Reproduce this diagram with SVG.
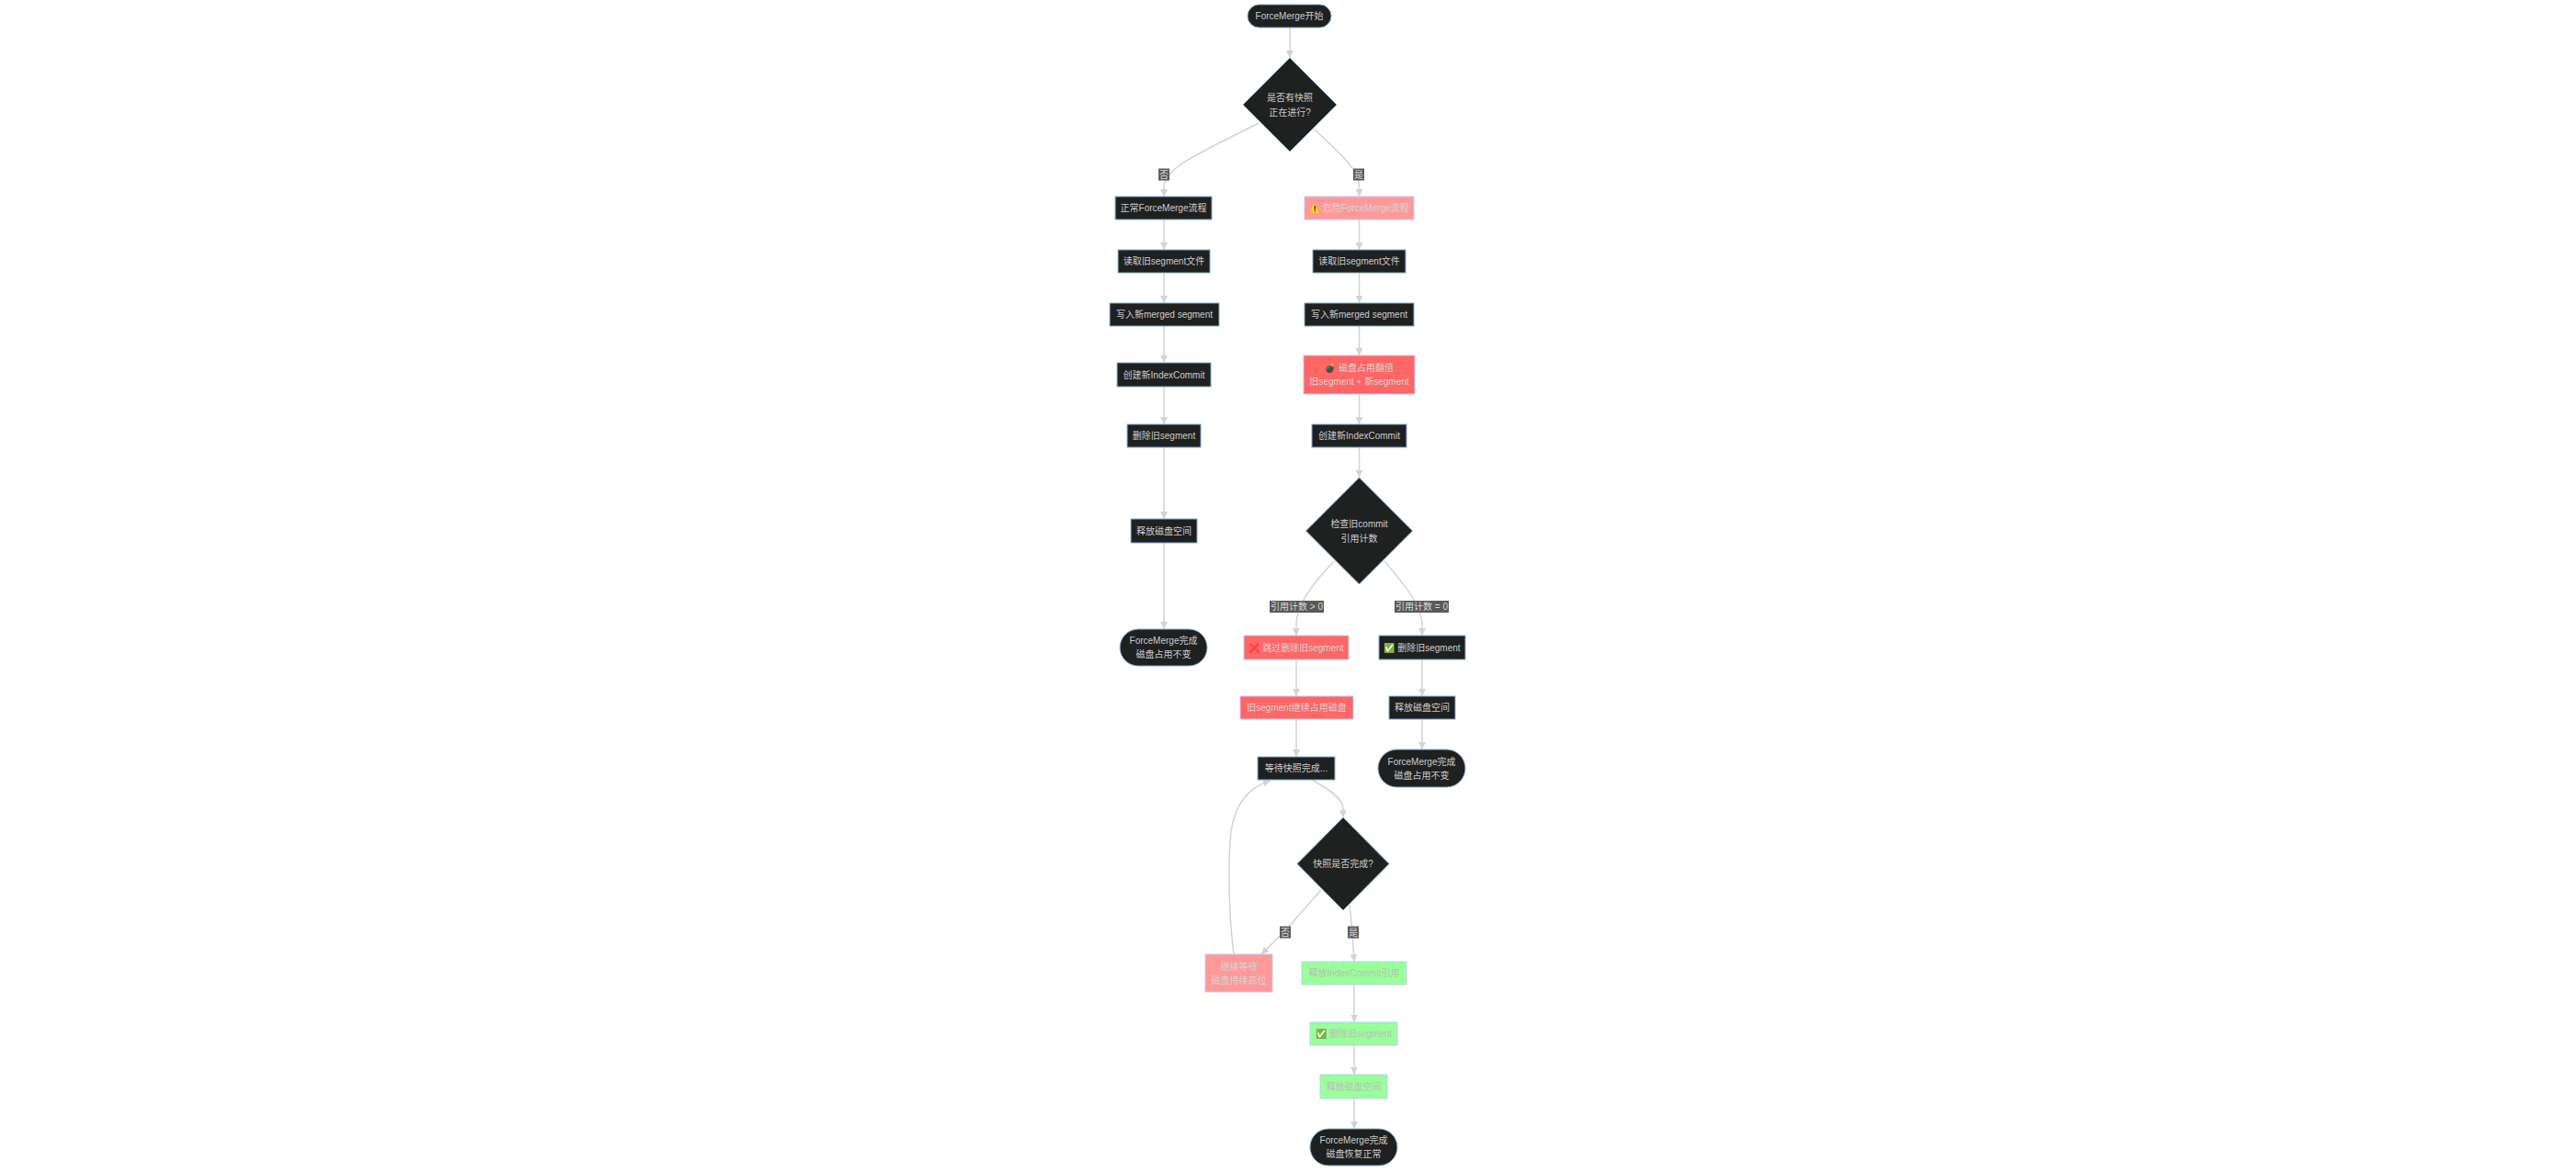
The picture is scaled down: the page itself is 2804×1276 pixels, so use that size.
<svg xmlns="http://www.w3.org/2000/svg" width="2804" height="1276" viewBox="0 0 2804 1276">
<defs>
<style>
.n rect,.n polygon{fill:#1f2020;stroke:#86acd4;stroke-width:1}
.n.pink rect{fill:#ff9999;stroke:#c8c8ee}
.n.red rect{fill:#ff6666;stroke:#c8c8ee}
.n.green rect{fill:#99ff99;stroke:#b8d4ee}
text{font-family:"Liberation Sans","Noto Sans CJK SC",sans-serif;font-size:10px;fill:#cccccc;text-anchor:middle}
.pink text,.red text{fill:#d4d4d4}
.green text{fill:#bcbcbc}
.e path{fill:none;stroke:#d3d3d3;stroke-width:1.5;marker-end:url(#arr)}
.lb rect{fill:#5a5a5a}
.lb text{fill:#d8d8d8}
</style>
<marker id="arr" viewBox="0 0 10 10" refX="10" refY="5" markerWidth="8" markerHeight="8" markerUnits="userSpaceOnUse" orient="auto">
<path d="M0,0 L10,5 L0,10 z" fill="#d3d3d3"/>
</marker>
</defs>
<rect width="2804" height="1276" fill="#ffffff"/>
<g id="edges" class="e">
<path d="M1404,30 L1404,63"/>
<path d="M1370,134 C1310,165 1267,182 1267,203 L1267,214"/>
<path d="M1430,140 C1460,168 1479.5,185 1479.5,203 L1479.5,214"/>
<path d="M1267,239 L1267,272"/>
<path d="M1267,297 L1267,330"/>
<path d="M1267,355 L1267,395"/>
<path d="M1267,421 L1267,462"/>
<path d="M1267,487 L1267,565"/>
<path d="M1267,591 L1267,685"/>
<path d="M1479.5,239 L1479.5,272"/>
<path d="M1479.5,297 L1479.5,330"/>
<path d="M1479.5,355 L1479.5,387"/>
<path d="M1479.5,429 L1479.5,462"/>
<path d="M1479.5,487 L1479.5,520"/>
<path d="M1452,611 C1425,640 1411,660 1411,680 L1411,692"/>
<path d="M1507,611 C1530,638 1548,660 1548,680 L1548,692"/>
<path d="M1411,718 L1411,758"/>
<path d="M1411,783 L1411,824"/>
<path d="M1548,718 L1548,758"/>
<path d="M1548,783 L1548,816"/>
<path d="M1428,849 C1448,860 1462,870 1462,880 L1462,890"/>
<path d="M1438,969 L1400,1012 L1373,1039"/>
<path d="M1469,985 L1472,1015 L1474,1047"/>
<path d="M1343,1039 C1338,1000 1336,940 1340,905 C1345,872 1362,856 1383,850"/>
<path d="M1474,1072 L1474,1113"/>
<path d="M1474,1138 L1474,1170"/>
<path d="M1474,1196 L1474,1229"/>
</g>
<g id="labels" class="lb">
<rect x="1261" y="183.5" width="12" height="13"/><text x="1267" y="193.5">否</text>
<rect x="1473" y="183.5" width="12" height="13"/><text x="1479" y="193.5">是</text>
<rect x="1382" y="654" width="59" height="13"/><text x="1411.5" y="664">引用计数 &gt; 0</text>
<rect x="1518" y="654" width="59" height="13"/><text x="1547.5" y="664">引用计数 = 0</text>
<rect x="1393" y="1008.5" width="12" height="13"/><text x="1399" y="1018.5">否</text>
<rect x="1467" y="1008.5" width="12" height="13"/><text x="1473" y="1018.5">是</text>
</g>
<g id="start" class="n"><rect x="1358" y="5" width="91" height="25" rx="12.5"/><text x="1403.5" y="21">ForceMerge开始</text></g>
<g id="d1" class="n"><polygon points="1404,63 1455,114 1404,165 1353,114"/><text x="1404" y="110">是否有快照</text><text x="1404" y="126">正在进行?</text></g>
<g id="l1" class="n"><rect x="1214" y="214" width="105" height="25"/><text x="1266.5" y="230">正常ForceMerge流程</text></g>
<g id="l2" class="n"><rect x="1217" y="272" width="100" height="25"/><text x="1267" y="288">读取旧segment文件</text></g>
<g id="l3" class="n"><rect x="1208" y="330" width="119" height="25"/><text x="1267.5" y="346">写入新merged segment</text></g>
<g id="l4" class="n"><rect x="1216" y="395" width="102" height="26"/><text x="1267" y="411.5">创建新IndexCommit</text></g>
<g id="l5" class="n"><rect x="1227" y="462" width="80" height="25"/><text x="1267" y="478">删除旧segment</text></g>
<g id="l6" class="n"><rect x="1231" y="565" width="72" height="26"/><text x="1267" y="581.5">释放磁盘空间</text></g>
<g id="l7" class="n"><rect x="1219" y="685" width="95" height="40" rx="20"/><text x="1266.5" y="701">ForceMerge完成</text><text x="1266.5" y="716">磁盘占用不变</text></g>
<g id="r1" class="n pink"><rect x="1420" y="214" width="119" height="25"/><text x="1479.5" y="230">⚠️ 危险ForceMerge流程</text></g>
<g id="r2" class="n"><rect x="1429" y="272" width="101" height="25"/><text x="1479.5" y="288">读取旧segment文件</text></g>
<g id="r3" class="n"><rect x="1420" y="330" width="119" height="25"/><text x="1479.5" y="346">写入新merged segment</text></g>
<g id="r4" class="n red"><rect x="1419" y="387" width="121" height="42"/><text x="1479.5" y="403.5">💣 磁盘占用翻倍</text><text x="1479.5" y="418.5">旧segment + 新segment</text></g>
<g id="r5" class="n"><rect x="1428" y="462" width="103" height="25"/><text x="1479.5" y="478">创建新IndexCommit</text></g>
<g id="d2" class="n"><polygon points="1479.5,520 1537.5,578 1479.5,636 1421.5,578"/><text x="1479.5" y="574">检查旧commit</text><text x="1479.5" y="590">引用计数</text></g>
<g id="r6" class="n red"><rect x="1354" y="692" width="114" height="26"/><text x="1411" y="708.5">❌ 跳过删除旧segment</text></g>
<g id="r7" class="n"><rect x="1501" y="692" width="94" height="26"/><text x="1548" y="708.5">✅ 删除旧segment</text></g>
<g id="r8" class="n red"><rect x="1350" y="758" width="123" height="25"/><text x="1411.5" y="774">旧segment继续占用磁盘</text></g>
<g id="r9" class="n"><rect x="1512" y="758" width="72" height="25"/><text x="1548" y="774">释放磁盘空间</text></g>
<g id="r10" class="n"><rect x="1369" y="824" width="84" height="25"/><text x="1411" y="840">等待快照完成...</text></g>
<g id="r11" class="n"><rect x="1500" y="816" width="95" height="41" rx="20.5"/><text x="1547.5" y="832.5">ForceMerge完成</text><text x="1547.5" y="847.5">磁盘占用不变</text></g>
<g id="d3" class="n"><polygon points="1462,890 1512,940.5 1462,991 1412,940.5"/><text x="1462" y="944">快照是否完成?</text></g>
<g id="r12" class="n pink"><rect x="1312" y="1039" width="73" height="41"/><text x="1348.5" y="1055.5">继续等待</text><text x="1348.5" y="1070.5">磁盘持续高位</text></g>
<g id="r13" class="n green"><rect x="1417" y="1047" width="114" height="25"/><text x="1474" y="1063">释放IndexCommit引用</text></g>
<g id="r14" class="n green"><rect x="1426" y="1113" width="95" height="25"/><text x="1473.5" y="1129">✅ 删除旧segment</text></g>
<g id="r15" class="n green"><rect x="1437" y="1170" width="73" height="26"/><text x="1473.5" y="1186.5">释放磁盘空间</text></g>
<g id="r16" class="n"><rect x="1426" y="1229" width="95" height="40" rx="20"/><text x="1473.5" y="1245">ForceMerge完成</text><text x="1473.5" y="1260">磁盘恢复正常</text></g>
</svg>
